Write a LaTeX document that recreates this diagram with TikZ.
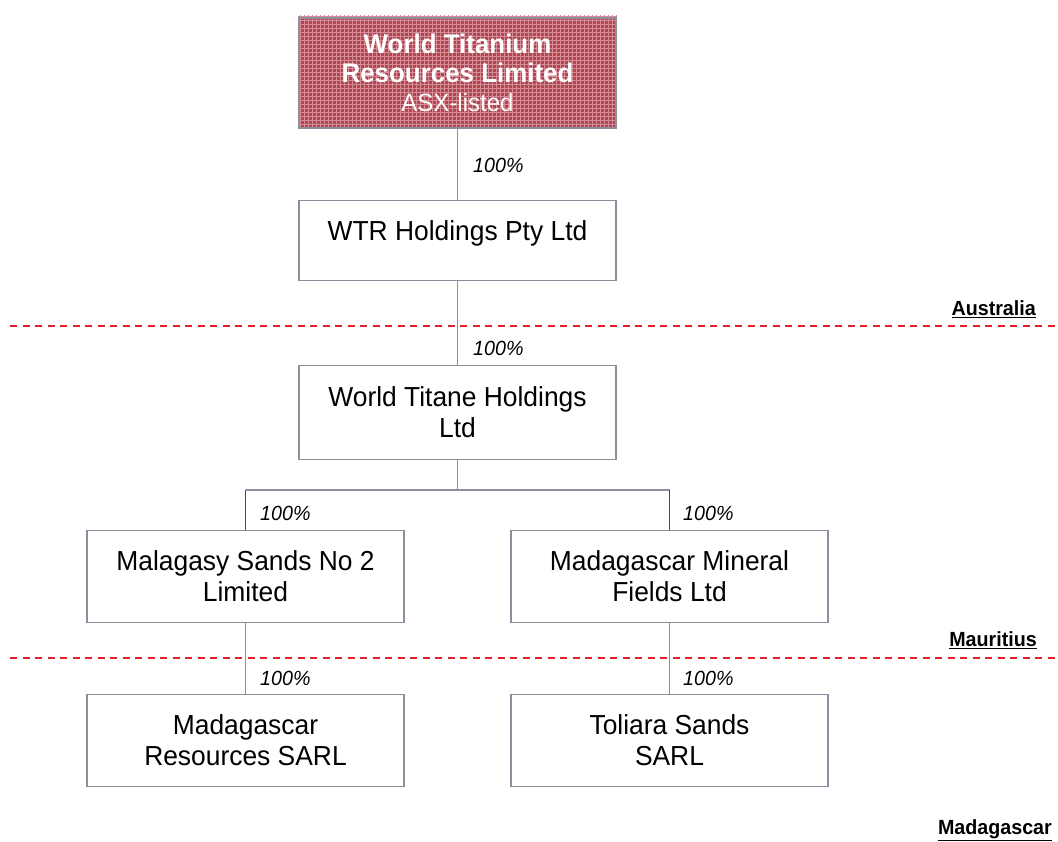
\documentclass[tikz,border=0pt]{standalone}
\usepackage{fontspec}
\setmainfont{Liberation Sans}[FakeStretch=0.96]
\definecolor{boxgray}{RGB}{140,142,158}
\definecolor{dashred}{RGB}{226,32,44}
\definecolor{dropblue}{RGB}{31,78,140}
\definecolor{topred}{RGB}{176,70,80}
\definecolor{gridpink}{RGB}{214,140,150}
\begin{document}
\begin{tikzpicture}[x=1pt,y=-1pt,
  box/.style={draw=boxgray, line width=1.8pt, fill=white, minimum width=317pt,
    inner sep=0pt, align=center, font=\fontsize{27.5}{31}\selectfont},
  txt/.style={inner sep=0pt, align=center, font=\fontsize{27.5}{31}\selectfont},
  conn/.style={draw=boxgray, line width=1.6pt},
  dropconn/.style={draw=dropblue, line width=1.6pt},
  border/.style={draw=dashred, line width=2pt, dash pattern=on 7pt off 5.5pt},
  pct/.style={inner sep=0pt, anchor=west, font=\fontsize{20.5}{24}\selectfont\itshape},
  country/.style={inner sep=0pt, anchor=east, font=\fontsize{20.5}{24}\selectfont\bfseries}]
\useasboundingbox (0,0) rectangle (1058,842);

% top box fill with texture
\begin{scope}
  \clip (298,16) rectangle (617,127);
  \fill[topred] (298,16) rectangle (617,127);
  \draw[gridpink, line width=0.9pt, step=4pt] (296,14) grid (620,130);
\end{scope}
\node[box, fill=none, minimum height=110pt, text=white, font=\fontsize{27}{29}\selectfont]
  (top) at (457.5,73)
  {{\bfseries World Titanium}\\{\bfseries Resources Limited}\\{\fontsize{25}{29}\selectfont ASX-listed}};

\node[box, minimum height=80pt] (b2) at (457.5,240.5) {};
\node[txt] (t2) at (457.5,233) {WTR Holdings Pty Ltd};
\node[box, minimum height=94pt] (b3) at (457.5,412.5) {World Titane Holdings\\Ltd};
\node[box, minimum height=92pt] (b4) at (245.5,576.5) {Malagasy Sands No 2\\Limited};
\node[box, minimum height=92pt] (b5) at (669.5,576.5) {Madagascar Mineral\\Fields Ltd};
\node[box, minimum height=92pt] (b6) at (245.5,740.5) {Madagascar\\Resources SARL};
\node[box, minimum height=92pt] (b7) at (669.5,740.5) {Toliara Sands\\SARL};

% jurisdiction borders
\coordinate (ausL) at (10,326.5);
\coordinate (ausR) at (1058,326.5);
\coordinate (mauL) at (10,658);
\coordinate (mauR) at (1058,658);
\draw[border] (ausL) -- (ausR);
\draw[border] (mauL) -- (mauR);
\node[country] (aus) at (1036,309) {\underline{Australia}};
\node[country] (mau) at (1037,640) {\underline{Mauritius}};
\node[country] (mad) at (1052,830) {\underline{Madagascar}};

% connectors
\coordinate (j) at (457.5,490);
\coordinate (jl) at (245.5,490);
\coordinate (jr) at (669.5,490);
\draw[conn] (top.south) -- (b2.north);
\draw[conn] (b2.south) -- (b3.north);
\draw[conn] (b3.south) -- (j);
\draw[conn] (jl) -- (jr);
\draw[dropconn] (jl) -- (b4.north);
\draw[dropconn] (jr) -- (b5.north);
\draw[conn] (b4.south) -- (b6.north);
\draw[conn] (b5.south) -- (b7.north);

% ownership labels
\node[pct] (p1) at (473,165) {100\%};
\node[pct] (p2) at (473,348) {100\%};
\node[pct] (p3) at (260,513) {100\%};
\node[pct] (p4) at (683,513) {100\%};
\node[pct] (p5) at (260,678) {100\%};
\node[pct] (p6) at (683,678) {100\%};
\end{tikzpicture}
\end{document}
